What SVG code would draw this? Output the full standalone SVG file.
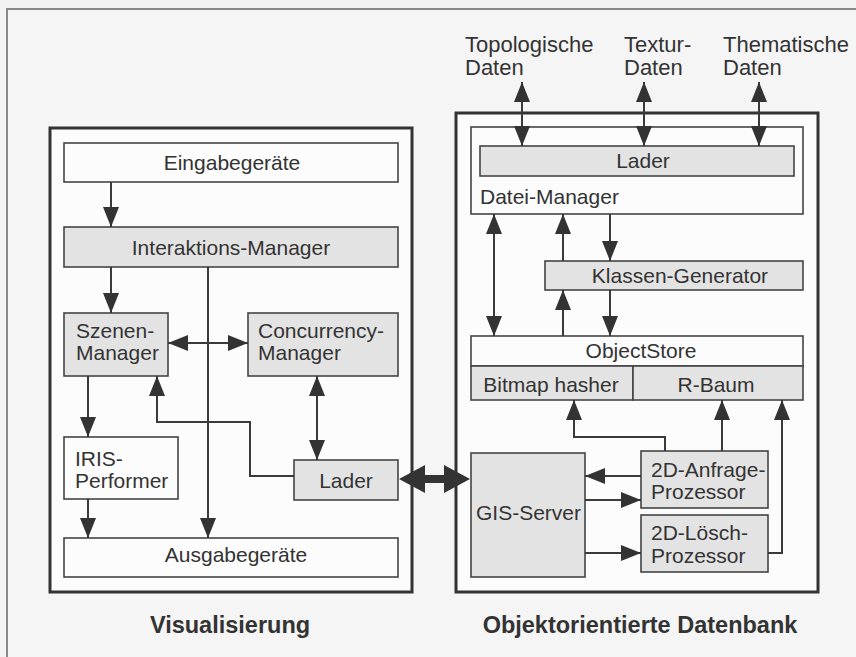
<svg xmlns="http://www.w3.org/2000/svg" width="856" height="657" viewBox="0 0 856 657">
<defs>
<style>
.panel{fill:#fcfcfc;stroke:#333;stroke-width:3}
.box{fill:#fcfcfc;stroke:#444;stroke-width:1.6}
.grey{fill:#e3e3e3;stroke:#444;stroke-width:1.6}
.t{font-family:"Liberation Sans",Arial,sans-serif;font-size:21px;fill:#333}
.tl{font-size:22px}
.c{text-anchor:middle}
.lbl{font-family:"Liberation Sans",Arial,sans-serif;font-size:23.5px;font-weight:bold;fill:#333;text-anchor:middle}
.ln{fill:none;stroke:#3a3a3a;stroke-width:2}
.a{marker-end:url(#ah)}
.b{marker-start:url(#ah);marker-end:url(#ah)}
</style>
<marker id="ah" viewBox="0 0 20 16" refX="20" refY="8" markerWidth="20" markerHeight="16" markerUnits="userSpaceOnUse" orient="auto-start-reverse">
<path d="M0,0 L20,8 L0,16 z" fill="#333"/>
</marker>
</defs>
<rect x="0" y="0" width="856" height="657" fill="#f3f3f3"/>
<rect x="7" y="9" width="860" height="660" fill="#f5f5f5" stroke="#888" stroke-width="2"/>

<g id="top-labels">
<text class="t tl" x="465" y="52">Topologische</text>
<text class="t tl" x="465" y="75">Daten</text>
<text class="t tl" x="624" y="52">Textur-</text>
<text class="t tl" x="624" y="75">Daten</text>
<text class="t tl" x="723" y="52">Thematische</text>
<text class="t tl" x="723" y="75">Daten</text>
</g>

<g id="panel-visualisierung"><rect class="panel" x="50" y="128" width="362" height="464"/></g>
<g id="panel-datenbank"><rect class="panel" x="456" y="113" width="362" height="479"/></g>

<g id="eingabegeraete"><rect class="box" x="64" y="143" width="334" height="39"/><text class="t c" x="232" y="170">Eingabegeräte</text></g>
<g id="interaktions-manager"><rect class="grey" x="64" y="227" width="334" height="40"/><text class="t c" x="231" y="255">Interaktions-Manager</text></g>
<g id="szenen-manager"><rect class="grey" x="64" y="313" width="104" height="63"/><text class="t" x="76" y="338">Szenen-</text><text class="t" x="76" y="360">Manager</text></g>
<g id="concurrency-manager"><rect class="grey" x="248" y="313" width="150" height="63"/><text class="t" x="258" y="338">Concurrency-</text><text class="t" x="258" y="360">Manager</text></g>
<g id="iris-performer"><rect class="box" x="64" y="437" width="114" height="62"/><text class="t" x="75" y="466">IRIS-</text><text class="t" x="75" y="488">Performer</text></g>
<g id="lader-links"><rect class="grey" x="294" y="460" width="104" height="40"/><text class="t c" x="346" y="488">Lader</text></g>
<g id="ausgabegeraete"><rect class="box" x="64" y="538" width="334" height="39"/><text class="t c" x="236" y="562">Ausgabegeräte</text></g>

<g id="datei-manager"><rect class="box" x="471" y="127" width="332" height="87"/><text class="t" x="480" y="204">Datei-Manager</text></g>
<g id="lader-rechts"><rect class="grey" x="480" y="146" width="314" height="30"/><text class="t c" x="643" y="168">Lader</text></g>
<g id="klassen-generator"><rect class="grey" x="545" y="261" width="258" height="29"/><text class="t c" x="680" y="283">Klassen-Generator</text></g>
<g id="objectstore"><rect class="box" x="471" y="336" width="332" height="30"/><text class="t c" x="641" y="358">ObjectStore</text></g>
<g id="bitmap-hasher"><rect class="grey" x="471" y="366" width="162" height="34"/><text class="t c" x="551" y="392">Bitmap hasher</text></g>
<g id="r-baum"><rect class="grey" x="633" y="366" width="170" height="34"/><text class="t c" x="716" y="392">R-Baum</text></g>
<g id="gis-server"><rect class="grey" x="471" y="453" width="114" height="124"/><text class="t" x="476" y="520">GIS-Server</text></g>
<g id="anfrage-prozessor"><rect class="grey" x="641" y="451" width="127" height="57"/><text class="t" x="651" y="477">2D-Anfrage-</text><text class="t" x="651" y="499">Prozessor</text></g>
<g id="loesch-prozessor"><rect class="grey" x="641" y="515" width="127" height="57"/><text class="t" x="651" y="540">2D-Lösch-</text><text class="t" x="651" y="563">Prozessor</text></g>

<g id="connectors">
<line class="ln b" x1="522" y1="82" x2="522" y2="146"/>
<line class="ln b" x1="644" y1="82" x2="644" y2="146"/>
<line class="ln b" x1="759" y1="82" x2="759" y2="146"/>
<line class="ln a" x1="111" y1="182" x2="111" y2="227"/>
<line class="ln a" x1="111" y1="267" x2="111" y2="313"/>
<line class="ln a" x1="208" y1="267" x2="208" y2="538"/>
<line class="ln b" x1="168" y1="343" x2="248" y2="343"/>
<line class="ln a" x1="88" y1="376" x2="88" y2="437"/>
<line class="ln b" x1="317" y1="376" x2="317" y2="460"/>
<polyline class="ln a" points="294,476 250,476 250,422 157,422 157,376"/>
<line class="ln a" x1="88" y1="499" x2="88" y2="538"/>
<polygon points="399,479 425,465 425,475 444,475 444,465 470,479 444,493 444,483 425,483 425,493" fill="#333"/>
<line class="ln b" x1="494" y1="214" x2="494" y2="336"/>
<line class="ln a" x1="563" y1="261" x2="563" y2="214"/>
<line class="ln a" x1="610" y1="214" x2="610" y2="261"/>
<line class="ln a" x1="563" y1="336" x2="563" y2="290"/>
<line class="ln a" x1="610" y1="290" x2="610" y2="336"/>
<polyline class="ln a" points="665,451 665,437 574,437 574,400"/>
<line class="ln a" x1="722" y1="451" x2="722" y2="400"/>
<polyline class="ln a" points="768,553 782,553 782,400"/>
<line class="ln a" x1="641" y1="476" x2="585" y2="476"/>
<line class="ln a" x1="585" y1="500" x2="641" y2="500"/>
<line class="ln a" x1="585" y1="553" x2="641" y2="553"/>
</g>

<g id="captions">
<text class="lbl" x="230" y="633">Visualisierung</text>
<text class="lbl" x="640" y="633">Objektorientierte Datenbank</text>
</g>
</svg>
